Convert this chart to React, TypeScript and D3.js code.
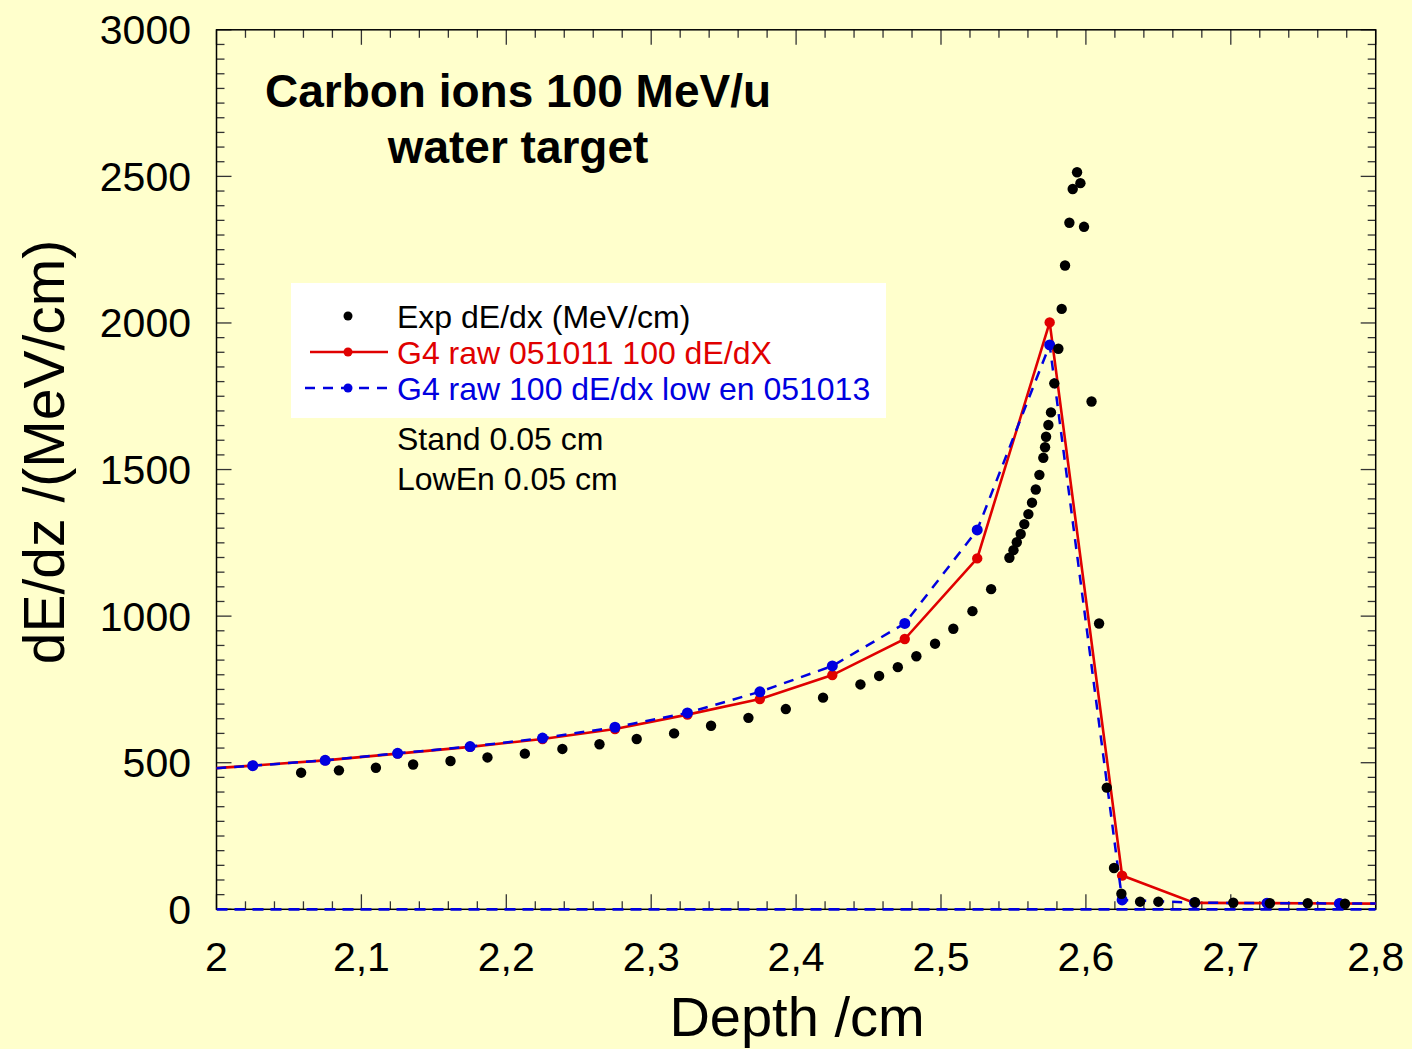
import React, { useEffect, useRef } from "react";
import * as d3 from "d3";

// Measured energy deposition (depth in cm, dE/dx in MeV/cm)
const expDepth = [
  2.0584, 2.0845, 2.11, 2.1357, 2.1615, 2.187, 2.2128, 2.2387, 2.2643, 2.29,
  2.3158, 2.3413, 2.3671, 2.3929, 2.4186, 2.4444, 2.4573, 2.4702, 2.483, 2.4959,
  2.5085, 2.5217, 2.5346, 2.5472, 2.55, 2.5523, 2.555, 2.5575, 2.5603, 2.5628,
  2.5654, 2.5679, 2.5706, 2.5718, 2.5725, 2.5741, 2.5759, 2.5782, 2.581, 2.5833,
  2.5856, 2.5886, 2.5909, 2.5939, 2.5962, 2.5987, 2.6039, 2.6091, 2.6144, 2.6194,
  2.6245, 2.6374, 2.65, 2.6753, 2.7017, 2.727, 2.7531, 2.7788,
];
const expValue = [
  466, 474, 483, 494, 506, 518, 531, 547, 563, 581,
  600, 626, 653, 683, 722, 767, 796, 826, 863, 906,
  957, 1017, 1092, 1199, 1225, 1252, 1280, 1314, 1348, 1387,
  1432, 1482, 1540, 1576, 1612, 1652, 1695, 1794, 1912, 2048,
  2196, 2342, 2457, 2514, 2477, 2328, 1732, 975, 415, 141,
  53, 26, 26, 24, 22.5, 20.5, 20.5, 19,
];

// Simulation bin centres (0.05 cm bins)
const simDepth = [
  1.975, 2.025, 2.075, 2.125, 2.175, 2.225, 2.275, 2.325, 2.375, 2.425,
  2.475, 2.525, 2.575, 2.625, 2.675, 2.725, 2.775, 2.825,
];
const g4Standard = [
  473, 490, 508, 531, 554, 581, 615, 664, 717, 799,
  922, 1197, 2002, 115, 22, 21, 20, 19,
];
const g4LowEn = [
  473, 490, 508, 532, 555, 584, 621, 670, 742, 830,
  975, 1294, 1925, 32, 22.5, 21, 20, 19,
];

const xTicks = [2, 2.1, 2.2, 2.3, 2.4, 2.5, 2.6, 2.7, 2.8];
const yTicks = [0, 500, 1000, 1500, 2000, 2500, 3000];

const legendItems = [
  { label: "Exp dE/dx (MeV/cm)", color: "#000000", kind: "dot" },
  { label: "G4 raw 051011 100 dE/dX", color: "#e00000", kind: "solid" },
  { label: "G4 raw 100 dE/dx low en 051013", color: "#0000e0", kind: "dashed" },
];
const noteLines = ["Stand 0.05 cm", "LowEn 0.05 cm"];
const titleLines = ["Carbon ions 100 MeV/u", "water target"];

const W = 1412;
const H = 1049;
const FONT = "'Liberation Sans', Arial, Helvetica, sans-serif";
const BG = "#ffffcc";
const RED = "#e00000";
const BLUE = "#0000e0";

export default function App() {
  const ref = useRef<SVGSVGElement | null>(null);

  useEffect(() => {
    const svg = d3.select(ref.current);
    svg.selectAll("*").remove();

    const left = 216.5;
    const right = 1375.7;
    const top = 29.8;
    const bottom = 909.3;

    const x = d3.scaleLinear().domain([2, 2.8]).range([left, right]);
    const y = d3.scaleLinear().domain([0, 3000]).range([bottom, top]);

    svg.append("rect").attr("width", W).attr("height", H).attr("fill", BG);

    svg
      .append("defs")
      .append("clipPath")
      .attr("id", "plotClip")
      .append("rect")
      .attr("x", left)
      .attr("y", top)
      .attr("width", right - left)
      .attr("height", bottom - top + 3);

    // Frame ticks (inward, on all four sides)
    const tickColor = "#333";
    const g = svg.append("g");
    const minorX = d3.range(0, 41).map((i) => 2 + i * 0.02);
    minorX.forEach((v, i) => {
      const major = i % 5 === 0;
      const len = major ? 15 : 8;
      g.append("line")
        .attr("x1", x(v)).attr("x2", x(v))
        .attr("y1", bottom).attr("y2", bottom - len)
        .attr("stroke", tickColor).attr("stroke-width", 1.3);
      g.append("line")
        .attr("x1", x(v)).attr("x2", x(v))
        .attr("y1", top).attr("y2", top + len)
        .attr("stroke", tickColor).attr("stroke-width", 1.3);
    });
    const minorY = d3.range(0, 61).map((i) => i * 50);
    minorY.forEach((v, i) => {
      const major = i % 10 === 0;
      const len = major ? 15 : 8;
      g.append("line")
        .attr("x1", left).attr("x2", left + len)
        .attr("y1", y(v)).attr("y2", y(v))
        .attr("stroke", tickColor).attr("stroke-width", 1.3);
      g.append("line")
        .attr("x1", right).attr("x2", right - len)
        .attr("y1", y(v)).attr("y2", y(v))
        .attr("stroke", tickColor).attr("stroke-width", 1.3);
    });

    svg
      .append("rect")
      .attr("x", left).attr("y", top)
      .attr("width", right - left).attr("height", bottom - top)
      .attr("fill", "none").attr("stroke", "#000").attr("stroke-width", 1.5);

    // Tick labels
    svg.selectAll(".xl")
      .data(xTicks)
      .enter()
      .append("text")
      .attr("x", (d) => x(d))
      .attr("y", 971)
      .attr("text-anchor", "middle")
      .attr("font-family", FONT)
      .attr("font-size", 41)
      .text((d) => (d === 2 ? "2" : d3.format(".1f")(d).replace(".", ",")));

    svg.selectAll(".yl")
      .data(yTicks)
      .enter()
      .append("text")
      .attr("x", 191)
      .attr("y", (d) => y(d) + 14.5)
      .attr("text-anchor", "end")
      .attr("font-family", FONT)
      .attr("font-size", 41)
      .text((d) => String(d));

    // Axis titles
    svg.append("text")
      .attr("x", 797).attr("y", 1036)
      .attr("text-anchor", "middle")
      .attr("font-family", FONT).attr("font-size", 56)
      .text("Depth /cm");
    svg.append("text")
      .attr("transform", "translate(64,452) rotate(-90)")
      .attr("text-anchor", "middle")
      .attr("font-family", FONT).attr("font-size", 57)
      .text("dE/dz /(MeV/cm)");

    const plot = svg.append("g").attr("clip-path", "url(#plotClip)");

    // Blue dashed zero trace along the depth axis
    plot.append("line")
      .attr("x1", left).attr("x2", right)
      .attr("y1", y(0)).attr("y2", y(0))
      .attr("stroke", BLUE).attr("stroke-width", 2.8)
      .attr("stroke-dasharray", "11,7");

    const line = d3.line<number>()
      .x((_, i) => x(simDepth[i]))
      .y((d) => y(d));

    plot.append("path")
      .attr("d", line(g4Standard))
      .attr("fill", "none").attr("stroke", RED).attr("stroke-width", 2.6);
    plot.selectAll(".rd")
      .data(g4Standard)
      .enter()
      .append("circle")
      .attr("cx", (_, i) => x(simDepth[i]))
      .attr("cy", (d) => y(d))
      .attr("r", 5.2)
      .attr("fill", RED);

    plot.append("path")
      .attr("d", line(g4LowEn))
      .attr("fill", "none").attr("stroke", BLUE).attr("stroke-width", 2.5)
      .attr("stroke-dasharray", "10,8");
    plot.selectAll(".bd")
      .data(g4LowEn)
      .enter()
      .append("circle")
      .attr("cx", (_, i) => x(simDepth[i]))
      .attr("cy", (d) => y(d))
      .attr("r", 5.5)
      .attr("fill", BLUE);

    plot.selectAll(".ed")
      .data(expValue)
      .enter()
      .append("circle")
      .attr("cx", (_, i) => x(expDepth[i]))
      .attr("cy", (d) => y(d))
      .attr("r", 5.2)
      .attr("fill", "#000");

    // Title
    titleLines.forEach((t, i) => {
      svg.append("text")
        .attr("x", 518).attr("y", 107 + i * 56)
        .attr("text-anchor", "middle")
        .attr("font-family", FONT).attr("font-size", 46)
        .attr("font-weight", "bold")
        .text(t);
    });

    // Legend
    const lg = svg.append("g");
    lg.append("rect")
      .attr("x", 291).attr("y", 283)
      .attr("width", 595).attr("height", 135)
      .attr("fill", "#ffffff");
    legendItems.forEach((it, i) => {
      const cy = 316 + i * 36;
      if (it.kind === "solid") {
        lg.append("line")
          .attr("x1", 310).attr("x2", 388)
          .attr("y1", cy).attr("y2", cy)
          .attr("stroke", it.color).attr("stroke-width", 2.6);
      } else if (it.kind === "dashed") {
        lg.append("line")
          .attr("x1", 305).attr("x2", 391)
          .attr("y1", cy).attr("y2", cy)
          .attr("stroke", it.color).attr("stroke-width", 2.5)
          .attr("stroke-dasharray", "10,8");
      }
      lg.append("circle")
        .attr("cx", 348).attr("cy", cy)
        .attr("r", 4.5)
        .attr("fill", it.color);
      lg.append("text")
        .attr("x", 397).attr("y", cy + 12)
        .attr("font-family", FONT).attr("font-size", 32)
        .attr("fill", it.color)
        .text(it.label);
    });
    noteLines.forEach((t, i) => {
      svg.append("text")
        .attr("x", 397).attr("y", 450 + i * 40)
        .attr("font-family", FONT).attr("font-size", 32)
        .text(t);
    });
  }, []);

  return (
    <svg
      ref={ref}
      width={W}
      height={H}
      style={{ position: "absolute", left: 0, top: 0, display: "block" }}
    />
  );
}
